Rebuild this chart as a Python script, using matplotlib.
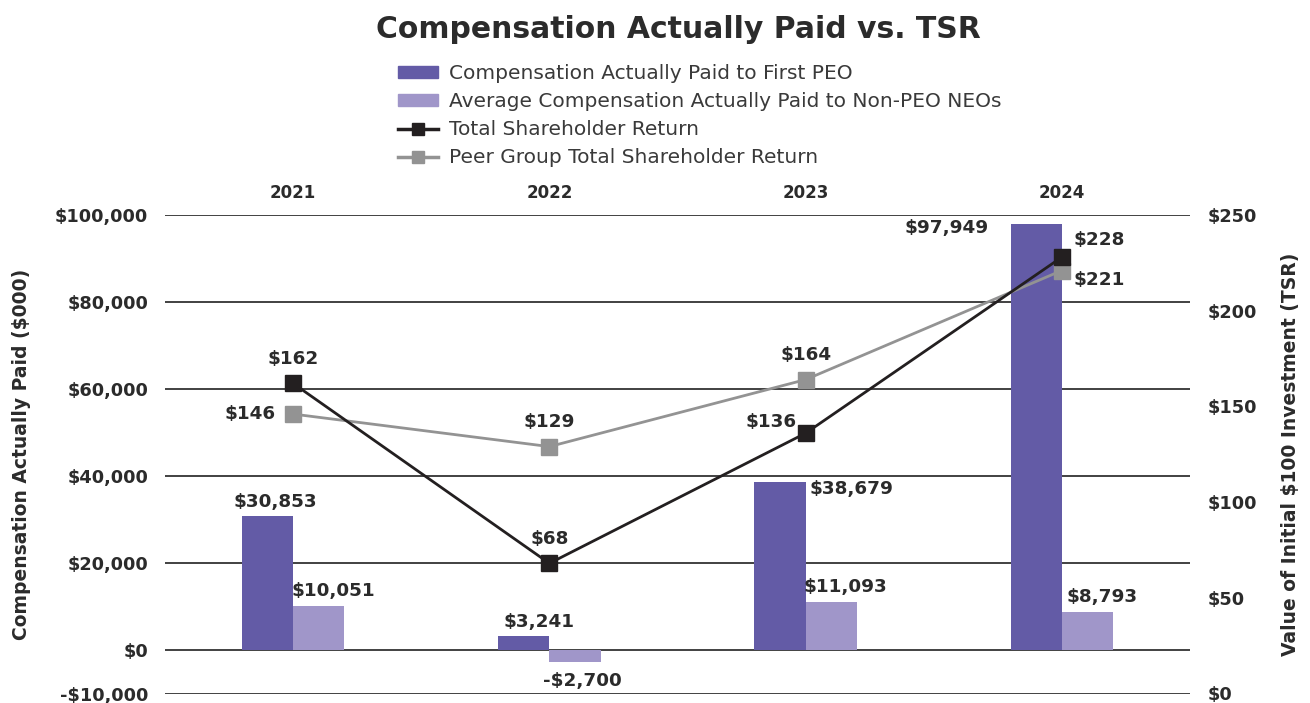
import matplotlib
matplotlib.use("Agg")
import matplotlib.pyplot as plt
from matplotlib.lines import Line2D
from matplotlib.patches import Patch

years = ["2021", "2022", "2023", "2024"]
cap_peo = [30853, 3241, 38679, 97949]
cap_neo = [10051, -2700, 11093, 8793]
tsr = [162, 68, 136, 228]
peer_tsr = [146, 129, 164, 221]

c_peo = "#635ba6"
c_neo = "#a096c9"
c_tsr = "#231f20"
c_peer = "#939393"
txt = "#2b2b2b"

plt.rcParams["font.family"] = ["DejaVu Sans"]

def money(v):
    return f"-${abs(v):,}" if v < 0 else f"${v:,}"

fig = plt.figure(figsize=(13.1, 7.03), dpi=100)
ax = fig.add_axes([165 / 1310, 9.5 / 703, 1025 / 1310, 478.5 / 703])
ax2 = ax.twinx()

x = list(range(len(years)))
w = 0.2
ax.bar([i - w / 2 for i in x], cap_peo, w, color=c_peo, zorder=3)
ax.bar([i + w / 2 for i in x], cap_neo, w, color=c_neo, zorder=3)

ax.set_xlim(-0.5, 3.5)
ax.set_ylim(-10000, 100000)
yt = [-10000, 0, 20000, 40000, 60000, 80000, 100000]
ax.set_yticks(yt)
ax.set_yticklabels([money(v) for v in yt], fontsize=12.8, fontweight="bold", color=txt)
for v in yt:
    ax.axhline(v, color="#333333", lw=1.3, zorder=1)
ax.tick_params(axis="y", length=0, pad=12)
ax.set_xticks([])
for s in ax.spines.values():
    s.set_visible(False)
for s in ax2.spines.values():
    s.set_visible(False)
ax.set_ylabel("Compensation Actually Paid ($000)", fontsize=13.5, fontweight="bold",
              color=txt, labelpad=17)

# year headers above the plot
for i, yr in enumerate(years):
    ax.text(i, 1.045, yr, transform=ax.get_xaxis_transform(), ha="center", va="center",
            fontsize=12, fontweight="bold", color=txt)

ax2.set_ylim(0, 250)
ax2.set_yticks([0, 50, 100, 150, 200, 250])
ax2.set_yticklabels([f"${v}" for v in [0, 50, 100, 150, 200, 250]], fontsize=12.8,
                    fontweight="bold", color=txt)
ax2.tick_params(axis="y", length=0, pad=13)
ax2.set_ylabel("Value of Initial $100 Investment (TSR)", fontsize=13.5, fontweight="bold",
               color=txt, labelpad=17)

ax2.plot(x, peer_tsr, color=c_peer, lw=2, marker="s", ms=12, zorder=4)
ax2.plot(x, tsr, color=c_tsr, lw=2, marker="s", ms=12, zorder=5)

lab = dict(fontsize=13.2, fontweight="bold", color=txt)
# first PEO bar labels: (x offset from bar centre, y offset in $000, ha, va)
peo_pos = [(0.03, 1200, "center", "bottom"), (0.06, 1200, "center", "bottom"),
           (0.115, -1700, "left", "center"), (-0.185, -950, "right", "center")]
for i, v in enumerate(cap_peo):
    dx, dy, ha, va = peo_pos[i]
    ax.text(i - w / 2 + dx, v + dy, money(v), ha=ha, va=va, **lab)
for i, v in enumerate(cap_neo):
    if v < 0:
        ax.text(i + w / 2 + 0.03, v - 2300, money(v), ha="center", va="top", **lab)
    else:
        ax.text(i + w / 2 + 0.055, v + 1400, money(v), ha="center", va="bottom", **lab)

# TSR labels
tsr_pos = [(0, 8, "center", "bottom"), (0, 8, "center", "bottom"),
           (-0.035, 6, "right", "center"), (0.045, 9, "left", "center")]
for i, v in enumerate(tsr):
    dx, dy, ha, va = tsr_pos[i]
    ax2.text(i + dx, v + dy, f"${v}", ha=ha, va=va, **lab)
peer_pos = [(-0.07, 0, "right", "center"), (0, 8, "center", "bottom"),
            (0, 8, "center", "bottom"), (0.045, -5, "left", "center")]
for i, v in enumerate(peer_tsr):
    dx, dy, ha, va = peer_pos[i]
    ax2.text(i + dx, v + dy, f"${v}", ha=ha, va=va, **lab)

fig.text(678 / 1310, 0.958, "Compensation Actually Paid vs. TSR", ha="center",
         va="center", fontsize=21.5, fontweight="bold", color=txt)

handles = [
    Patch(color=c_peo),
    Patch(color=c_neo),
    Line2D([], [], color=c_tsr, lw=2.5, marker="s", ms=8),
    Line2D([], [], color=c_peer, lw=2.5, marker="s", ms=8),
]
labels = [
    "Compensation Actually Paid to First PEO",
    "Average Compensation Actually Paid to Non-PEO NEOs",
    "Total Shareholder Return",
    "Peer Group Total Shareholder Return",
]
fig.legend(handles, labels, loc="upper left", bbox_to_anchor=(390 / 1310, 1 - 56 / 703),
           frameon=False, fontsize=14.5, handlelength=2.0, handleheight=0.5,
           labelspacing=0.45, handletextpad=0.55, labelcolor="#3a3a3a", borderaxespad=0)

fig.savefig("out.png", dpi=100)
